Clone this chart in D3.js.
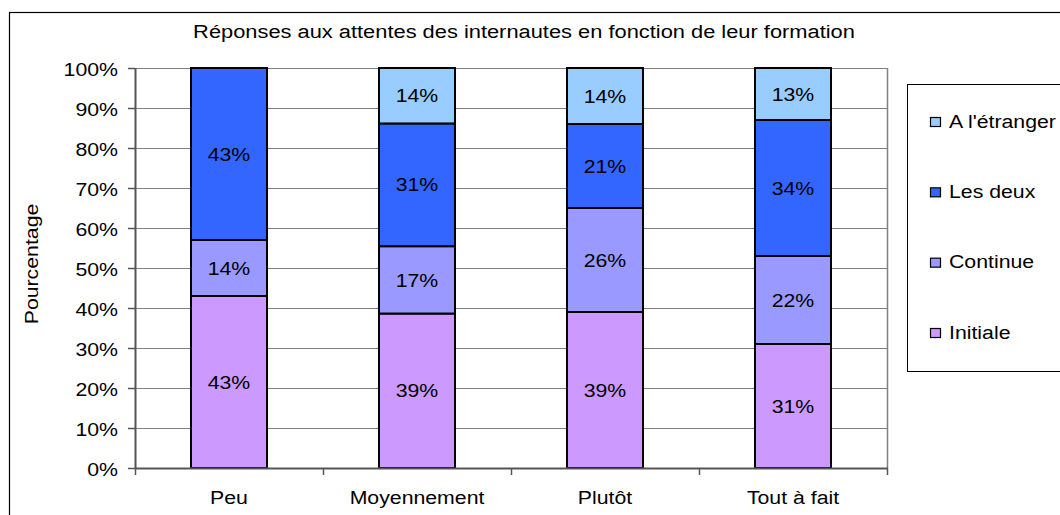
<!DOCTYPE html>
<html>
<head>
<meta charset="utf-8">
<script src="https://cdn.jsdelivr.net/npm/d3@7"></script>
<style>
  body { margin: 0; background: #fff; }
  svg { display: block; font-family: "Liberation Sans", Arial, sans-serif; }
</style>
</head>
<body>
<div id="chart-container"></div>
<script>
// Data
const categories = ['Peu', 'Moyennement', 'Plutôt', 'Tout à fait']
const seriesNames = ['Initiale', 'Continue', 'Les deux', "A l'étranger"]
const initiale = [43, 39, 39, 31]
const continue_ = [14, 17, 26, 22]
const lesDeux = [43, 31, 21, 34]
const etranger = [0, 14, 14, 13]
const yTicks = [0, 10, 20, 30, 40, 50, 60, 70, 80, 90, 100]
const colors = ['#CC99FF', '#9999FF', '#3366FF', '#99CCFF']
const titleText = 'Réponses aux attentes des internautes en fonction de leur formation'

const width = 1060, height = 515
const plot = { left: 135, right: 887, top: 68, bottom: 468 }
const sx = 1.12   // text in the source is stretched horizontally
const fontSize = 19

const svg = d3.select('#chart-container')
    .append('svg')
    .attr('width', width)
    .attr('height', height)

// outer chart border
svg.append('rect')
    .attr('x', 9.5).attr('y', 12.5)
    .attr('width', width).attr('height', height)
    .attr('fill', 'none').attr('stroke', '#000').attr('stroke-width', 1.2)

function label(g, x, y, txt, anchor, rotate, stretch) {
    let t = 'translate(' + x + ',' + y + ')'
    if (rotate) t += ' rotate(' + rotate + ')'
    t += ' scale(' + (stretch || sx) + ',1)'
    return g.append('text')
        .attr('transform', t)
        .attr('text-anchor', anchor || 'middle')
        .attr('dy', '0.35em')
        .attr('font-size', fontSize)
        .attr('fill', '#000')
        .text(txt)
}

const x = d3.scaleBand().domain(categories).range([plot.left, plot.right]).paddingInner(0).paddingOuter(0)
const y = d3.scaleLinear().domain([0, 100]).range([plot.bottom, plot.top])

// gridlines
svg.append('g').selectAll('line')
    .data(yTicks.slice(1))
    .enter().append('line')
    .attr('x1', plot.left).attr('x2', plot.right)
    .attr('y1', d => Math.round(y(d)) + 0.5).attr('y2', d => Math.round(y(d)) + 0.5)
    .attr('stroke', '#808080').attr('stroke-width', 1)

// plot area right border
svg.append('line')
    .attr('x1', plot.right + 0.5).attr('x2', plot.right + 0.5)
    .attr('y1', plot.top).attr('y2', plot.bottom)
    .attr('stroke', '#808080').attr('stroke-width', 1.5)

// stacked data (100% normalised)
const rows = categories.map((c, i) => {
    const vals = [initiale[i], continue_[i], lesDeux[i], etranger[i]]
    const total = d3.sum(vals)
    const r = { cat: c }
    seriesNames.forEach((s, j) => { r[s] = vals[j] / total * 100; r[s + '_lbl'] = vals[j] })
    return r
})
const stack = d3.stack().keys(seriesNames)(rows)

const barW = 76
const layers = svg.append('g').selectAll('g')
    .data(stack)
    .enter().append('g')
    .attr('fill', (d, i) => colors[i])

layers.selectAll('rect')
    .data(d => d.map(p => ({ p: p, key: d.key })))
    .enter().append('rect')
    .filter(d => d.p[1] - d.p[0] > 0)
    .attr('x', d => x(d.p.data.cat) + x.bandwidth() / 2 - barW / 2)
    .attr('y', d => y(d.p[1]))
    .attr('width', barW)
    .attr('height', d => y(d.p[0]) - y(d.p[1]))
    .attr('stroke', '#000').attr('stroke-width', 2)

// value labels
const labels = svg.append('g')
stack.forEach(layer => {
    layer.forEach(p => {
        const v = p.data[layer.key + '_lbl']
        if (v > 0) {
            label(labels, x(p.data.cat) + x.bandwidth() / 2, (y(p[0]) + y(p[1])) / 2, v + '%')
        }
    })
})

// y axis
const yAxis = svg.append('g')
yAxis.append('line')
    .attr('x1', plot.left + 0.5).attr('x2', plot.left + 0.5)
    .attr('y1', plot.top).attr('y2', plot.bottom)
    .attr('stroke', '#555').attr('stroke-width', 2)
yAxis.selectAll('.tick')
    .data(yTicks)
    .enter().append('line')
    .attr('x1', plot.left - 7).attr('x2', plot.left)
    .attr('y1', d => Math.round(y(d)) + 0.5).attr('y2', d => Math.round(y(d)) + 0.5)
    .attr('stroke', '#555').attr('stroke-width', 1.5)
yTicks.forEach(t => label(yAxis, 118, y(t) + 1, t + '%', 'end'))

// x axis
const xAxis = svg.append('g')
xAxis.append('line')
    .attr('x1', plot.left).attr('x2', plot.right + 1)
    .attr('y1', plot.bottom + 0.5).attr('y2', plot.bottom + 0.5)
    .attr('stroke', '#555').attr('stroke-width', 2)
xAxis.selectAll('.tick')
    .data(categories.concat(['end']))
    .enter().append('line')
    .attr('x1', (d, i) => Math.round(plot.left + i * x.bandwidth()) + 0.5)
    .attr('x2', (d, i) => Math.round(plot.left + i * x.bandwidth()) + 0.5)
    .attr('y1', plot.bottom).attr('y2', plot.bottom + 7)
    .attr('stroke', '#555').attr('stroke-width', 1.5)
categories.forEach(c => label(xAxis, x(c) + x.bandwidth() / 2, 497, c))

// titles
label(svg, 524, 31, titleText, 'middle', 0, 1.15)
label(svg, 31, 264, 'Pourcentage', 'middle', -90)

// legend
const legend = svg.append('g')
legend.append('rect')
    .attr('x', 907.5).attr('y', 84.5)
    .attr('width', 200).attr('height', 287)
    .attr('fill', '#fff').attr('stroke', '#000').attr('stroke-width', 1)
const legendOrder = seriesNames.slice().reverse()
const ly = d3.scalePoint().domain(legendOrder).range([121, 332])
legendOrder.forEach(s => {
    const i = seriesNames.indexOf(s)
    legend.append('rect')
        .attr('x', 930.5).attr('y', ly(s) - 3.5)
        .attr('width', 10).attr('height', 9)
        .attr('fill', colors[i]).attr('stroke', '#000').attr('stroke-width', 1.2)
    label(legend, 949, ly(s), s, 'start')
})
</script>
</body>
</html>
